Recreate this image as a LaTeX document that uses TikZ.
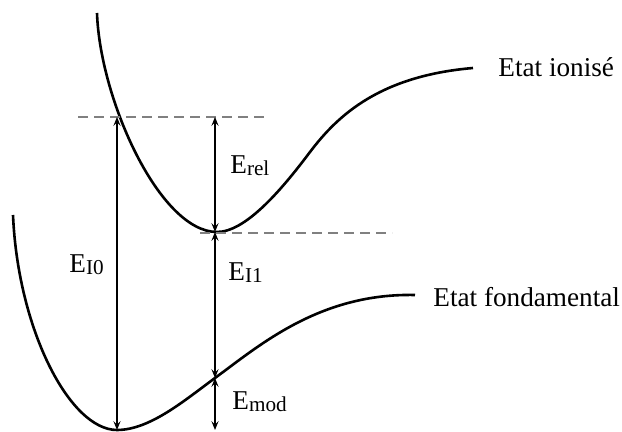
\documentclass[tikz,border=0pt]{standalone}
\usepackage{fontspec}
\setmainfont{Liberation Serif}
\usetikzlibrary{arrows.meta}

\newcommand{\Elab}[1]{E\raisebox{-0.6pt}{\fontsize{10.6}{11}\selectfont #1}}

\begin{document}
\begin{tikzpicture}[
  x=0.5pt,y=-0.5pt,
  curve/.style={line width=1.3pt,line join=round},
  level/.style={gray,line width=0.55pt,dash pattern=on 5pt off 3pt},
  arr/.style={{Stealth[length=4.5pt,width=3.6pt,inset=1.8pt]}-{Stealth[length=4.5pt,width=3.6pt,inset=1.8pt]},line width=0.55pt},
  lab/.style={font=\fontsize{13.6}{16}\selectfont,inner sep=0pt}
]
\useasboundingbox (0,0) rectangle (622,432);
% reference points
\coordinate (i0top) at (117,117);
\coordinate (g0min) at (117,430);
\coordinate (ionmin) at (215,232);
\coordinate (reltop) at (215,117);
\coordinate (gcross) at (215,378);
\coordinate (modbot) at (215,430);
\coordinate (dashA) at (78,117);
\coordinate (dashB) at (268,117);
\coordinate (dashC) at (200,233);
\coordinate (dashD) at (392,233);
% potential curves
\draw[curve] (97,13) .. controls (100,100) and (160,232) .. (217,232)
  .. controls (245,232) and (280,192) .. (310,152)
  .. controls (338,115) and (380,76) .. (473,68);
\draw[curve] (13,215) .. controls (18,330) and (70,430) .. (117,430)
  .. controls (150,430) and (185,400) .. (215,378)
  .. controls (260,345) and (320,293) .. (415,295);
% levels
\draw[level] (dashA) -- (dashB);
\draw[level] (dashC) -- (dashD);
% energies
\draw[arr] (g0min) -- (i0top);
\draw[arr] (reltop) -- (ionmin);
\draw[arr] (ionmin) -- (gcross);
\draw[arr] (gcross) -- (modbot);
\node[lab,anchor=base west] (ion) at (498,77) {Etat ionisé};
\node[lab,anchor=base west] (fond) at (433,307) {Etat fondamental};
\node[lab,anchor=base west] (erel) at (230,174) {\Elab{rel}};
\node[lab,anchor=base west] (ei0) at (69,273) {\Elab{I0}};
\node[lab,anchor=base west] (ei1) at (228,281) {\Elab{I1}};
\node[lab,anchor=base west] (emod) at (232,410) {\Elab{mod}};
\end{tikzpicture}
\end{document}
